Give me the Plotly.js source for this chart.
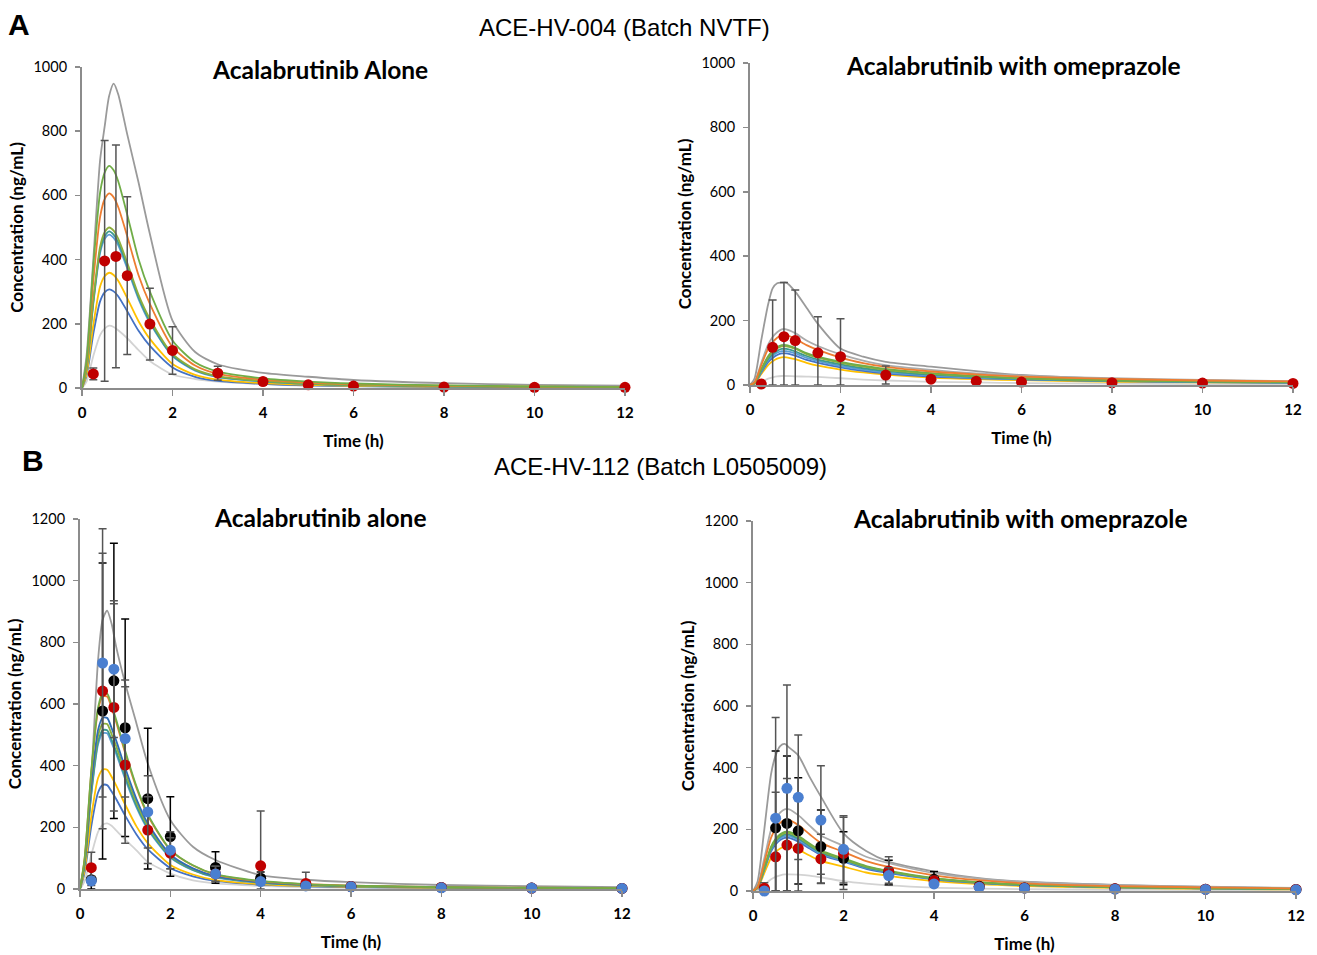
<!DOCTYPE html>
<html>
<head>
<meta charset="utf-8">
<script src="https://cdn.plot.ly/plotly-3.0.1.min.js"></script>
<style>html,body{margin:0;padding:0;background:#fff}#chart{width:1317px;height:955px}</style>
</head>
<body>
<div id="chart"></div>
<script>
// ---------- shared grids ----------
const tGrid = [0, 0.1, 0.25, 0.4, 0.5, 0.6, 0.7, 0.8, 1, 1.25, 1.5, 2, 2.5, 3, 4, 5, 6, 8, 10, 12];
const tObs = [0.25, 0.5, 0.75, 1, 1.5, 2, 3, 4, 5, 6, 8, 10, 12];
const xTicks = [0, 2, 4, 6, 8, 10, 12];
const xTickText = ['0', '2', '4', '6', '8', '10', '12'];

// ---------- Panel A left: Acalabrutinib Alone (ACE-HV-004) ----------
const aL_upper  = [0, 100, 400, 710, 814, 910, 948, 915, 790, 640, 480, 210, 112, 74, 47, 35, 25, 15, 10, 7];
const aL_green  = [0, 83, 381, 609, 671, 692, 678, 644, 540, 401, 300, 148, 80, 51, 30, 20, 14, 8, 5, 3];
const aL_orange = [0, 73, 333, 533, 588, 606, 594, 564, 473, 351, 262, 128, 70, 44, 26, 17, 12, 7, 4, 3];
const aL_olive  = [0, 60, 275, 440, 485, 500, 490, 465, 390, 290, 215, 106, 58, 37, 22, 14, 10, 6, 4, 3];
const aL_teal   = [0, 59, 268, 429, 473, 488, 478, 454, 381, 283, 208, 102, 56, 35, 21, 13, 9, 5, 3, 2];
const aL_lblue  = [0, 57, 263, 421, 464, 478, 468, 445, 373, 277, 203, 99, 54, 34, 20, 13, 9, 5, 3, 2];
const aL_yellow = [0, 43, 197, 316, 348, 359, 352, 334, 280, 208, 153, 75, 41, 26, 15, 10, 7, 4, 3, 2];
const aL_blue   = [0, 37, 169, 270, 298, 307, 301, 286, 239, 178, 131, 64, 35, 22, 13, 8, 6, 3, 2, 2];
const aL_lower  = [0, 20, 100, 165, 185, 194, 190, 180, 155, 118, 84, 42, 28, 20, 12, 7, 5, 3, 2, 1];
const aL_obs      = [44, 396, 410, 350, 199, 117, 46, 20, 10, 6, 3, 2, 2];
const aL_obsPlus  = [18, 375, 347, 246, 112, 74, 22, 10, 4, 3, 1, 1, 1];
const aL_obsMinus = [18, 375, 347, 246, 112, 74, 22, 10, 4, 3, 1, 1, 1];

// ---------- Panel A right: with omeprazole (ACE-HV-004) ----------
const aR_upper  = [0, 20, 140, 250, 300, 316, 318, 318, 290, 240, 190, 113, 88, 72, 57, 43, 31, 19, 14, 10];
const aR_mgray  = [0, 9, 69, 125, 149, 164, 173, 173, 161, 138, 121, 95, 76, 62, 47, 36, 29, 21, 16, 12];
const aR_orange = [0, 8, 62, 112, 133, 147, 155, 155, 144, 124, 109, 85, 68, 56, 42, 33, 26, 19, 14, 11];
const aR_green  = [0, 6, 50, 89, 107, 118, 124, 124, 115, 99, 88, 72, 60, 50, 37, 28, 22, 15, 11, 9];
const aR_olive  = [0, 6, 48, 86, 103, 114, 120, 120, 112, 96, 85, 69, 57, 47, 35, 27, 21, 14, 11, 8];
const aR_teal   = [0, 6, 45, 81, 96, 106, 112, 112, 104, 90, 79, 64, 52, 43, 32, 25, 19, 13, 10, 8];
const aR_lblue  = [0, 5, 42, 76, 90, 100, 105, 105, 98, 84, 74, 59, 48, 39, 29, 22, 18, 13, 9, 7];
const aR_blue   = [0, 5, 39, 71, 84, 93, 98, 98, 91, 78, 69, 55, 44, 36, 26, 21, 17, 12, 9, 7];
const aR_yellow = [0, 4, 34, 62, 74, 82, 86, 86, 80, 69, 60, 48, 39, 32, 23, 18, 15, 10, 8, 6];
const aR_lower  = [0, 1, 10, 20, 24, 27, 28, 28, 27, 26, 25, 21, 17, 14, 10, 8, 6, 4, 3, 2];
const aR_obs      = [3, 117, 150, 138, 100, 88, 31, 18, 12, 9, 7, 6, 5];
const aR_obsPlus  = [5, 147, 168, 157, 112, 118, 28, 7, 3, 3, 2, 2, 2];
const aR_obsMinus = [3, 117, 150, 138, 100, 88, 28, 7, 3, 3, 2, 2, 2];

// ---------- Panel B left: Acalabrutinib alone (ACE-HV-112) ----------
const bL_upper  = [0, 90, 364, 743, 873, 903, 860, 786, 667, 537, 407, 224, 137, 94, 45, 30, 22, 13, 9, 6];
const bL_green  = [0, 96, 384, 589, 634, 634, 595, 550, 448, 333, 243, 128, 77, 48, 26, 16, 11, 6, 4, 3];
const bL_orange = [0, 95, 378, 580, 624, 624, 586, 542, 441, 328, 239, 126, 76, 47, 25, 16, 11, 6, 4, 3];
const bL_dblue  = [0, 84, 337, 516, 555, 555, 522, 482, 393, 292, 213, 112, 67, 42, 22, 14, 10, 6, 3, 2];
const bL_olive  = [0, 81, 324, 497, 535, 535, 502, 464, 378, 281, 205, 108, 65, 41, 22, 14, 9, 5, 3, 2];
const bL_teal   = [0, 78, 312, 478, 515, 515, 484, 447, 364, 270, 198, 104, 62, 39, 21, 13, 9, 5, 3, 2];
const bL_lblue  = [0, 77, 306, 469, 505, 505, 474, 439, 357, 265, 194, 102, 61, 38, 20, 13, 9, 5, 3, 2];
const bL_yellow = [0, 59, 235, 360, 387, 387, 364, 336, 274, 203, 149, 78, 47, 29, 16, 10, 7, 4, 2, 2];
const bL_blue   = [0, 51, 204, 313, 337, 337, 316, 292, 238, 177, 129, 68, 41, 26, 14, 9, 6, 3, 2, 1];
const bL_lower  = [0, 25, 110, 185, 208, 213, 205, 190, 160, 125, 88, 50, 28, 18, 10, 6, 4, 3, 2, 1];
const bL_black      = [30, 577, 675, 523, 293, 170, 70, 35, 12, 8, 5, 3, 2];
const bL_blackPlus  = [30, 480, 446, 353, 228, 129, 51, 20, 8, 4, 2, 1, 1];
const bL_blackMinus = [30, 480, 446, 353, 228, 129, 51, 20, 8, 4, 2, 1, 1];
const bL_red        = [69, 642, 589, 402, 191, 116, 49, 75, 18, 8, 5, 3, 2];
const bL_redPlus    = [50, 447, 336, 254, 108, 50, 25, 178, 36, 6, 3, 2, 1];
const bL_redMinus   = [50, 447, 336, 254, 108, 50, 25, 75, 18, 6, 3, 2, 1];
const bL_bluePts    = [26, 733, 713, 488, 250, 126, 49, 24, 10, 7, 4, 3, 2];
const bL_bluePlus   = [15, 435, 222, 190, 117, 60, 25, 10, 5, 3, 2, 1, 1];
const bL_blueMinus  = [15, 435, 222, 190, 117, 60, 25, 10, 5, 3, 2, 1, 1];

// ---------- Panel B right: with omeprazole (ACE-HV-112) ----------
const bR_upper  = [0, 30, 200, 380, 440, 470, 477, 465, 440, 370, 306, 187, 130, 95, 63, 42, 30, 20, 14, 10];
const bR_mgray  = [0, 16, 106, 199, 233, 254, 265, 265, 246, 212, 180, 146, 111, 90, 58, 40, 29, 19, 13, 9];
const bR_orange = [0, 14, 92, 173, 202, 221, 230, 230, 214, 184, 156, 127, 97, 78, 51, 35, 25, 16, 12, 8];
const bR_green  = [0, 12, 77, 144, 169, 184, 192, 192, 179, 154, 131, 106, 81, 65, 42, 29, 21, 13, 10, 7];
const bR_olive  = [0, 11, 75, 141, 165, 180, 188, 188, 175, 150, 128, 103, 79, 64, 41, 28, 21, 13, 9, 7];
const bR_teal   = [0, 11, 73, 137, 161, 176, 183, 183, 170, 146, 124, 101, 77, 62, 40, 27, 20, 13, 9, 6];
const bR_lblue  = [0, 11, 71, 134, 157, 171, 178, 178, 166, 142, 121, 98, 75, 61, 39, 27, 20, 12, 9, 6];
const bR_blue   = [0, 10, 69, 129, 151, 165, 172, 172, 160, 138, 117, 95, 72, 58, 38, 26, 19, 12, 9, 6];
const bR_yellow = [0, 9, 58, 108, 127, 138, 144, 144, 134, 115, 98, 79, 60, 49, 32, 22, 16, 10, 7, 5];
const bR_lower  = [0, 3, 20, 38, 46, 51, 54, 54, 53, 50, 44, 32, 24, 18, 11, 8, 6, 4, 3, 2];
const bR_black      = [5, 205, 219, 195, 144, 106, 60, 38, 15, 10, 7, 6, 5];
const bR_blackPlus  = [8, 249, 219, 172, 119, 86, 40, 25, 8, 5, 3, 2, 2];
const bR_blackMinus = [5, 205, 219, 172, 119, 86, 40, 25, 8, 5, 3, 2, 2];
const bR_red        = [9, 111, 149, 138, 104, 122, 65, 33, 14, 10, 7, 6, 5];
const bR_redPlus    = [18, 209, 216, 173, 80, 117, 46, 15, 7, 5, 3, 2, 2];
const bR_redMinus   = [9, 111, 149, 138, 80, 117, 46, 15, 7, 5, 3, 2, 2];
const bR_bluePts    = [0, 236, 333, 304, 230, 135, 50, 23, 12, 9, 6, 5, 4];
const bR_bluePlus   = [3, 327, 335, 202, 176, 109, 25, 10, 5, 3, 2, 2, 1];
const bR_blueMinus  = [0, 236, 333, 202, 176, 109, 25, 10, 5, 3, 2, 2, 1];

// ---------- styles ----------
const C = {
  upper: '#9a9a9a', mgray: '#ababab', lower: '#d3d3d3',
  green: '#70AD47', orange: '#ED7D31', olive: '#8DAE3C', teal: '#3C9A8C',
  lblue: '#5B9BD5', dblue: '#2F6DB5', blue: '#4472C4', yellow: '#FFC000',
  red: '#C00000', black: '#000000', ptBlue: '#4A7FD0', err: '#555555'
};

function curve(y, color, xa, ya, w) {
  return {x: tGrid, y: y, type: 'scatter', mode: 'lines', xaxis: xa, yaxis: ya,
    line: {color: color, width: w || 1.8, shape: 'spline', smoothing: 0.7},
    hoverinfo: 'skip', showlegend: false, cliponaxis: true};
}
function pts(y, plus, minus, color, ecolor, xa, ya) {
  return {x: tObs, y: y, type: 'scatter', mode: 'markers', xaxis: xa, yaxis: ya,
    marker: {color: color, size: 11},
    error_y: {type: 'data', symmetric: false, array: plus, arrayminus: minus,
      color: ecolor, thickness: 1.5, width: 4},
    showlegend: false, cliponaxis: false};
}

const traces = [
  // A left
  curve(aL_upper, C.upper, 'x', 'y'), curve(aL_lower, C.lower, 'x', 'y'),
  curve(aL_blue, C.blue, 'x', 'y'), curve(aL_yellow, C.yellow, 'x', 'y'),
  curve(aL_lblue, C.lblue, 'x', 'y'), curve(aL_teal, C.teal, 'x', 'y'),
  curve(aL_olive, C.olive, 'x', 'y'), curve(aL_orange, C.orange, 'x', 'y'),
  curve(aL_green, C.green, 'x', 'y'),
  pts(aL_obs, aL_obsPlus, aL_obsMinus, C.red, C.err, 'x', 'y'),
  // A right
  curve(aR_upper, C.upper, 'x2', 'y2'), curve(aR_lower, C.lower, 'x2', 'y2'),
  curve(aR_mgray, C.mgray, 'x2', 'y2'),
  curve(aR_yellow, C.yellow, 'x2', 'y2'), curve(aR_blue, C.blue, 'x2', 'y2'),
  curve(aR_lblue, C.lblue, 'x2', 'y2'), curve(aR_teal, C.teal, 'x2', 'y2'),
  curve(aR_olive, C.olive, 'x2', 'y2'), curve(aR_green, C.green, 'x2', 'y2'),
  curve(aR_orange, C.orange, 'x2', 'y2'),
  pts(aR_obs, aR_obsPlus, aR_obsMinus, C.red, C.err, 'x2', 'y2'),
  // B left
  curve(bL_upper, C.upper, 'x3', 'y3'), curve(bL_lower, C.lower, 'x3', 'y3'),
  curve(bL_blue, C.blue, 'x3', 'y3'), curve(bL_yellow, C.yellow, 'x3', 'y3'),
  curve(bL_lblue, C.lblue, 'x3', 'y3'), curve(bL_teal, C.teal, 'x3', 'y3'),
  curve(bL_olive, C.olive, 'x3', 'y3'), curve(bL_dblue, C.dblue, 'x3', 'y3'),
  curve(bL_orange, C.orange, 'x3', 'y3'), curve(bL_green, C.green, 'x3', 'y3'),
  pts(bL_black, bL_blackPlus, bL_blackMinus, C.black, C.black, 'x3', 'y3'),
  pts(bL_red, bL_redPlus, bL_redMinus, C.red, C.err, 'x3', 'y3'),
  pts(bL_bluePts, bL_bluePlus, bL_blueMinus, C.ptBlue, C.err, 'x3', 'y3'),
  // B right
  curve(bR_upper, C.upper, 'x4', 'y4'), curve(bR_lower, C.lower, 'x4', 'y4'),
  curve(bR_mgray, C.mgray, 'x4', 'y4'),
  curve(bR_yellow, C.yellow, 'x4', 'y4'), curve(bR_blue, C.blue, 'x4', 'y4'),
  curve(bR_lblue, C.lblue, 'x4', 'y4'), curve(bR_teal, C.teal, 'x4', 'y4'),
  curve(bR_olive, C.olive, 'x4', 'y4'), curve(bR_green, C.green, 'x4', 'y4'),
  curve(bR_orange, C.orange, 'x4', 'y4'),
  pts(bR_black, bR_blackPlus, bR_blackMinus, C.black, C.black, 'x4', 'y4'),
  pts(bR_red, bR_redPlus, bR_redMinus, C.red, C.err, 'x4', 'y4'),
  pts(bR_bluePts, bR_bluePlus, bR_blueMinus, C.ptBlue, C.err, 'x4', 'y4')
];

const FONT = 'Lato, "Open Sans", Arial, sans-serif';
function xAxis(domain, anchor) {
  return {domain: domain, anchor: anchor, range: [0, 12], tickvals: xTicks, ticktext: xTickText,
    showgrid: false, zeroline: false, showline: true, linecolor: '#8c8c8c', linewidth: 2,
    ticks: 'outside', ticklen: 6, tickcolor: '#8c8c8c', tickwidth: 1.5, ticklabelstandoff: 4,
    tickfont: {family: FONT, size: 15, color: '#000', weight: 'bold'},
    title: {text: '<b>Time (h)</b>', font: {family: FONT, size: 17, color: '#000'}, standoff: 15}};
}
function yAxis(domain, anchor, max) {
  return {domain: domain, anchor: anchor, range: [0, max], dtick: 200,
    showgrid: false, zeroline: false, showline: true, linecolor: '#8c8c8c', linewidth: 2,
    ticks: 'outside', ticklen: 5, tickcolor: '#8c8c8c', tickwidth: 1.5, ticklabelstandoff: 5,
    tickfont: {family: FONT, size: 14.5, color: '#000'},
    title: {text: '<b>Concentration (ng/mL)</b>', font: {family: FONT, size: 17, color: '#000'}, standoff: 6}};
}

function ann(text, px, py, size, family, bold) {
  return {text: bold ? '<b>' + text + '</b>' : text, x: px / 1317, y: 1 - py / 955,
    xref: 'paper', yref: 'paper', xanchor: 'center', yanchor: 'middle', showarrow: false,
    font: {family: family, size: size, color: '#000'}};
}
const HEAD = '"Liberation Sans", Arial, sans-serif';

const layout = {
  width: 1317, height: 955, margin: {l: 0, r: 0, t: 0, b: 0},
  paper_bgcolor: '#fff', plot_bgcolor: '#fff', showlegend: false,
  xaxis: xAxis([82 / 1317, 625 / 1317], 'y'),
  yaxis: yAxis([1 - 388 / 955, 1 - 67 / 955], 'x', 1000),
  xaxis2: xAxis([750 / 1317, 1293 / 1317], 'y2'),
  yaxis2: yAxis([1 - 385 / 955, 1 - 63 / 955], 'x2', 1000),
  xaxis3: xAxis([80 / 1317, 622 / 1317], 'y3'),
  yaxis3: yAxis([1 - 889 / 955, 1 - 519 / 955], 'x3', 1200),
  xaxis4: xAxis([753 / 1317, 1296 / 1317], 'y4'),
  yaxis4: yAxis([1 - 891 / 955, 1 - 521 / 955], 'x4', 1200),
  annotations: [
    ann('A', 19, 25, 30, HEAD, true),
    ann('ACE-HV-004 (Batch NVTF)', 624, 27, 24, HEAD, false),
    ann('Acalabrutinib Alone', 320, 70, 24.5, FONT, true),
    ann('Acalabrutinib with omeprazole', 1013, 66, 24.5, FONT, true),
    ann('B', 33, 460, 30, HEAD, true),
    ann('ACE-HV-112 (Batch L0505009)', 660, 467, 24, HEAD, false),
    ann('Acalabrutinib alone', 320, 517, 24.5, FONT, true),
    ann('Acalabrutinib with omeprazole', 1020, 518, 24.5, FONT, true)
  ]
};

Plotly.newPlot('chart', traces, layout, {displayModeBar: false, staticPlot: true});
</script>
</body>
</html>
